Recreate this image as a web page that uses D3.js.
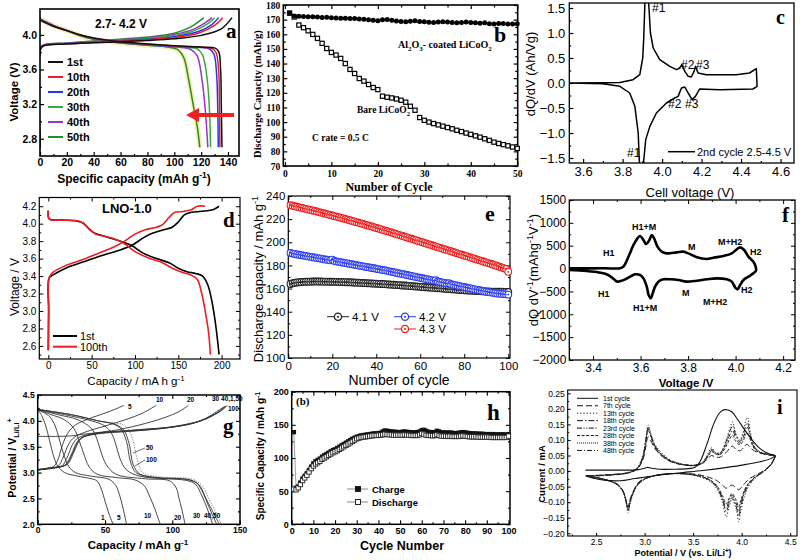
<!DOCTYPE html>
<html><head><meta charset="utf-8">
<script src="https://cdn.jsdelivr.net/npm/d3@7"></script>
<style>body{margin:0;background:#fff}svg{display:block}</style>
</head><body><svg id="c" width="800" height="560"></svg>
<script>
// ================= DATA =================
// --- panel a : voltage profiles (capacity mAh/g, V)
const aLegend = ["1st","10th","20th","30th","40th","50th"];
const aChg1st = [[0,2.7],[0.6,3.84],[3,3.875],[20,3.895],[50,3.915],[80,3.935],[100,3.955],[120,3.995],[135,4.07],[143,4.2]];
const aChg10th = [[0,2.7],[0.6,3.85],[3,3.878],[20,3.898],[50,3.92],[80,3.945],[100,3.97],[118,4.02],[130,4.11],[136,4.2]];
const aChg20th = [[0,2.7],[0.6,3.85],[3,3.88],[20,3.9],[50,3.925],[80,3.95],[100,3.98],[118,4.04],[128,4.12],[133,4.2]];
const aChg30th = [[0,2.7],[0.6,3.86],[3,3.882],[20,3.902],[50,3.93],[80,3.96],[100,3.995],[115,4.05],[125,4.13],[130,4.2]];
const aChg40th = [[0,2.7],[0.6,3.86],[3,3.885],[20,3.905],[50,3.935],[80,3.965],[100,4.005],[115,4.07],[124,4.15],[128,4.2]];
const aChg50th = [[0,2.7],[0.6,3.86],[3,3.888],[20,3.908],[50,3.94],[80,3.975],[100,4.02],[112,4.09],[122,4.2]];
const aDis1st = [[0,4.17],[10,4.1],[20,4.05],[30,4.0],[40,3.965],[50,3.94],[60,3.92],[80,3.895],[100,3.875],[120,3.86],[130,3.85],[133,3.81],[134.5,3.6],[135,3.2],[135.5,2.7]];
const aDis10th = [[0,4.175],[10,4.1],[20,4.05],[30,4.0],[40,3.962],[50,3.938],[60,3.918],[80,3.893],[100,3.873],[120,3.858],[128,3.845],[131,3.8],[133,3.6],[133.6,3.2],[134,2.7]];
const aDis20th = [[0,4.18],[10,4.105],[20,4.052],[30,4.0],[40,3.96],[50,3.936],[60,3.916],[80,3.89],[100,3.87],[120,3.855],[126,3.84],[129.5,3.78],[131.5,3.55],[132.3,3.2],[132.8,2.7]];
const aDis30th = [[0,4.18],[10,4.105],[20,4.05],[30,3.995],[40,3.955],[50,3.932],[60,3.912],[80,3.886],[100,3.866],[110,3.855],[117,3.84],[121,3.77],[124,3.55],[126,3.2],[127,2.7]];
const aDis40th = [[0,4.185],[10,4.11],[20,4.05],[30,3.995],[40,3.953],[50,3.93],[60,3.91],[80,3.884],[95,3.866],[105,3.855],[112,3.835],[117,3.76],[120.5,3.5],[123,3.15],[125,2.7]];
const aDis50th = [[0,4.185],[10,4.11],[20,4.05],[30,3.99],[40,3.95],[50,3.927],[60,3.906],[80,3.88],[95,3.86],[102,3.835],[107,3.74],[110.5,3.5],[114,3.2],[117,2.95],[119,2.7]];

// --- panel b : discharge capacity vs cycle
const bCycles = d3.range(1, 51);
const bCoated = [174.3,172.5,172.3,172.2,172.0,172.0,171.8,171.5,171.6,171.3,171.2,171.0,171.0,170.8,170.7,170.4,170.3,170.0,169.6,169.3,170.0,170.1,169.5,169.0,168.8,168.6,168.9,169.2,168.7,168.5,168.2,168.0,168.4,168.6,168.3,168.0,167.8,168.1,168.3,168.0,167.8,167.5,167.8,167.2,167.0,167.3,167.4,167.1,167.0,167.2];
const bBare = [174.5,171.8,166.3,164.5,162.4,159.9,157.2,153.8,150.3,147.6,145.8,143.5,140.0,136.0,133.2,129.8,128.0,125.7,123.6,122.2,117.7,117.0,116.5,115.8,114.9,113.6,110.8,108.1,103.1,101.2,100.0,99.0,98.1,97.2,96.3,95.4,94.4,93.5,92.5,91.6,90.6,89.7,88.6,87.5,86.3,85.4,84.6,83.8,83.0,82.0];

// --- panel c : dQ/dV (V, Ah/Vg)
const cCurve = [[3.53,0],[3.70,0.003],[3.786,0.01],[3.853,0.067],[3.887,0.167],[3.902,0.5],[3.907,0.9],[3.912,1.5],[3.915,2.0],[3.925,2.2],[3.932,1.6],[3.941,1.0],[3.955,0.7],[3.988,0.467],[4.039,0.333],[4.073,0.267],[4.089,0.3],[4.1,0.367],[4.115,0.233],[4.132,0.133],[4.148,0.12],[4.162,0.233],[4.169,0.333],[4.182,0.2],[4.224,0.167],[4.376,0.167],[4.443,0.2],[4.477,0.287],[4.48,0.05],[4.481,-0.067],[4.46,-0.12],[4.292,-0.133],[4.19,-0.12],[4.169,-0.267],[4.152,-0.333],[4.132,-0.2],[4.115,-0.08],[4.098,-0.1],[4.081,-0.267],[4.064,-0.3],[4.022,-0.4],[3.971,-0.6],[3.938,-0.867],[3.917,-1.133],[3.907,-1.55],[3.9,-2.1],[3.89,-2.0],[3.884,-1.5],[3.879,-1.0],[3.862,-0.467],[3.836,-0.2],[3.786,-0.067],[3.70,-0.013],[3.53,0]];

// --- panel d : voltage profiles LNO-1.0
const dChg1st = [[0,2.55],[0.4,3.0],[1,3.38],[5,3.41],[20,3.49],[40,3.56],[60,3.63],[80,3.69],[96,3.75],[110,3.84],[120,3.89],[133,3.93],[143,3.96],[150,4.02],[157,4.1],[165,4.13],[180,4.145],[190,4.16],[197,4.2]];
const dChg100th = [[0,2.55],[0.4,3.0],[1,3.38],[5,3.44],[20,3.52],[40,3.59],[60,3.67],[75,3.73],[88,3.8],[100,3.88],[112,3.93],[125,3.96],[132,3.99],[140,4.08],[146,4.13],[155,4.14],[165,4.16],[172,4.2],[181,4.2]];
const dDis1st = [[0,4.15],[0.5,4.06],[3,4.045],[20,4.04],[33,4.03],[40,4.01],[45,3.96],[52,3.9],[60,3.87],[70,3.84],[80,3.81],[96,3.75],[110,3.66],[125,3.6],[140,3.55],[150,3.49],[160,3.45],[170,3.43],[178,3.4],[184,3.3],[189,3.1],[193,2.85],[196,2.6],[197,2.5]];
const dDis100th = [[0,4.15],[0.5,4.06],[3,4.045],[20,4.04],[35,4.03],[42,3.99],[48,3.93],[55,3.88],[65,3.855],[75,3.83],[88,3.77],[100,3.68],[115,3.61],[130,3.56],[145,3.48],[155,3.44],[165,3.41],[172,3.36],[177,3.2],[181,3.0],[185,2.75],[187,2.5]];

// --- panel e : discharge capacity vs cycle at three cut-off voltages
const eCycles = d3.range(1, 101);
const e41 = [164.0,164.6,165.0,165.3,165.5,165.7,165.8,165.9,166.0,166.0,166.1,166.1,166.1,166.1,166.1,166.0,166.0,166.0,165.9,165.9,165.8,165.8,165.7,165.7,165.6,165.5,165.5,165.4,165.3,165.2,165.1,165.0,164.9,164.8,164.7,164.6,164.5,164.4,164.3,164.2,164.1,164.0,163.9,163.8,163.6,163.5,163.4,163.3,163.1,163.0,162.9,162.7,162.6,162.4,162.3,162.1,162.0,161.8,161.7,161.5,161.4,161.2,161.1,160.9,160.8,160.6,160.5,160.3,160.2,160.0,159.9,159.7,159.6,159.4,159.3,159.1,159.0,158.8,158.7,158.5,158.4,158.3,158.2,158.1,158.0,157.9,157.8,157.7,157.6,157.5,157.5,157.4,157.4,157.3,157.3,157.2,157.2,157.1,157.1,157.0];
const e42 = [190.8,190.2,189.9,189.5,189.2,188.8,188.5,188.1,187.8,187.4,187.1,186.8,186.4,186.1,185.8,185.4,185.1,184.8,184.4,185.0,183.8,183.4,183.1,182.7,182.4,182.0,181.7,181.3,181.0,180.6,180.3,179.9,179.6,179.2,178.9,178.5,178.2,177.8,177.5,177.1,176.8,176.4,176.0,175.8,175.3,174.9,174.5,174.1,173.7,173.3,172.9,172.5,172.1,171.7,171.3,170.9,170.5,170.1,169.7,169.3,168.9,168.5,168.1,167.7,167.3,166.9,167.2,166.1,165.7,165.3,164.9,164.5,164.6,163.7,163.3,162.9,162.5,162.1,161.7,161.3,160.9,160.5,160.1,159.7,159.3,158.9,158.5,158.1,157.7,157.3,157.0,156.7,156.4,156.1,155.8,155.6,155.4,155.2,155.0,154.8];
const e43 = [232.0,231.6,231.1,230.7,230.2,229.8,229.3,228.9,228.4,228.0,227.5,227.0,226.6,226.1,225.6,225.1,224.6,224.1,223.6,223.1,222.6,222.1,221.6,221.1,220.6,220.1,219.5,219.0,218.5,218.0,217.4,216.9,216.3,215.8,215.2,214.7,214.1,213.6,213.0,212.4,211.9,211.3,210.7,210.1,209.5,209.0,208.4,207.8,207.2,206.6,206.0,205.4,204.8,204.2,203.6,203.0,202.4,201.8,201.2,200.6,200.0,199.4,198.8,198.2,197.6,197.0,196.4,195.8,195.2,194.6,194.0,193.4,192.8,192.2,191.6,191.0,190.4,189.8,189.2,188.6,188.0,187.4,186.8,186.2,185.6,185.0,184.4,183.8,183.2,182.6,182.0,181.4,180.8,180.2,179.5,178.9,178.2,177.6,176.9,174.5];
const eLegend = ["4.1 V","4.2 V","4.3 V"];

// --- panel f : dQ/dV (V, mAh g-1 V-1)
const fCurve = [[3.30,5],[3.45,6],[3.514,8],[3.528,42],[3.549,260],[3.57,515],[3.587,661],[3.598,712],[3.612,625],[3.623,537],[3.637,625],[3.647,734],[3.657,661],[3.671,479],[3.689,370],[3.71,333],[3.752,355],[3.78,370],[3.801,333],[3.837,246],[3.879,209],[3.907,238],[3.949,275],[3.984,333],[4.005,421],[4.019,464],[4.036,406],[4.054,260],[4.068,187],[4.079,114],[4.085,27],[4.086,-46],[4.075,-104],[4.054,-177],[4.033,-250],[4.019,-359],[4.008,-454],[3.998,-410],[3.984,-286],[3.963,-235],[3.921,-214],[3.879,-235],[3.837,-265],[3.794,-286],[3.759,-250],[3.724,-235],[3.696,-235],[3.675,-286],[3.661,-396],[3.651,-542],[3.643,-651],[3.634,-578],[3.626,-396],[3.612,-214],[3.598,-140],[3.577,-126],[3.556,-177],[3.535,-235],[3.516,-272],[3.502,-286],[3.488,-235],[3.464,-140],[3.43,-90],[3.373,-53],[3.30,-31]];

// --- panel g : voltage profiles for several cycles (capacity, V)
const gDis1 = [[0,4.22],[3,4.1],[6,3.9],[9,3.6],[12,3.3],[15,3.12],[20,3.0],[30,2.93],[40,2.88],[44,2.84],[47,2.7],[50,2.45],[53,2.2],[56,2.0]];
const gDis5 = [[0,4.22],[5,4.15],[9,4.08],[13,3.9],[16,3.65],[19,3.38],[23,3.12],[28,3.0],[40,2.93],[53,2.87],[58,2.75],[61,2.55],[63.5,2.3],[66,2.0]];
const gDis10 = [[0,4.22],[10,4.12],[20,4.02],[27,3.85],[31,3.6],[34,3.38],[38,3.12],[44,2.97],[60,2.9],[72,2.86],[79,2.75],[83,2.55],[87,2.3],[91,2.0]];
const gDis20 = [[0,4.22],[15,4.12],[30,4.02],[40,3.85],[44,3.65],[47,3.4],[51,3.15],[58,2.97],[80,2.88],[98,2.84],[103,2.7],[105,2.5],[107,2.3],[109.5,2.0]];
const gDis30 = [[0,4.22],[20,4.12],[40,4.0],[50,3.9],[55,3.75],[58,3.55],[61,3.28],[66,3.05],[76,2.93],[96,2.88],[110,2.85],[117,2.78],[122,2.55],[126,2.3],[130,2.0]];
const gDis40 = [[0,4.22],[25,4.12],[45,4.0],[56,3.94],[62,3.84],[66,3.6],[69,3.2],[73,3.0],[85,2.91],[110,2.87],[118,2.8],[123,2.6],[127,2.35],[133,2.0]];
const gDis50 = [[0,4.22],[25,4.12],[45,4.0],[58,3.93],[64,3.82],[68,3.55],[71,3.15],[76,2.97],[90,2.9],[113,2.86],[120,2.76],[125,2.5],[129,2.3],[135,2.0]];
const gDis100 = [[55,3.97],[63,3.93],[67,3.85],[71,3.6],[74,3.25],[78,3.0],[90,2.92],[115,2.87],[122,2.75],[127,2.5],[131,2.3],[136.5,2.0]];
const gChg1 = [[0,3.7],[15,3.7],[25,3.71],[33,3.74],[45,3.77],[60,3.8],[80,3.84],[100,3.88],[115,3.95],[125,4.05],[133,4.18],[139,4.28]];
const gChg5 = [[0,3.05],[6,3.08],[12,3.12],[15,3.25],[18,3.5],[22,3.75],[28,3.92],[38,4.04],[50,4.15],[58,4.23],[64,4.3]];
const gChg10 = [[0,3.05],[8,3.08],[15,3.12],[19,3.3],[23,3.55],[27,3.68],[35,3.78],[50,3.9],[65,4.02],[78,4.15],[88,4.3]];
const gChg20 = [[0,3.05],[10,3.08],[18,3.13],[22,3.3],[26,3.55],[30,3.67],[40,3.75],[60,3.83],[80,3.95],[95,4.07],[105,4.18],[112,4.3]];
const gChg30 = [[0,3.05],[12,3.09],[20,3.14],[25,3.35],[29,3.58],[33,3.68],[45,3.75],[70,3.8],[95,3.86],[115,3.95],[127,4.06],[134,4.17],[139,4.28]];
const gChg40 = [[0,3.06],[12,3.1],[21,3.15],[26,3.38],[30,3.6],[34,3.69],[46,3.76],[72,3.81],[97,3.87],[117,3.97],[128,4.08],[135,4.18],[140,4.29]];
const gChg50 = [[0,3.06],[13,3.1],[22,3.16],[27,3.4],[31,3.62],[35,3.7],[47,3.77],[73,3.82],[98,3.88],[118,3.98],[129,4.09],[136,4.19],[141,4.3]];

// --- panel h : specific capacity vs cycle number
const hCycles = d3.range(1, 101);
const hCharge = [139,55,57,63,69,73,77,82,87,92,95,97,99,102,104,106,108,110,112,113,115,117,119,121,123,125,127,129,130.5,132,133,134,134.5,135,135.5,136,136.5,137,137,137.5,138,140,141.5,141,140.5,140,139.5,139.5,139,139,139.5,140,139.5,139,139,138.5,138.5,139,140,142,142.5,141,139.5,139,138.5,139,141,140,138.5,138.5,138.5,138,138.5,138,137.5,137.5,138,138.5,139,138.5,138,137.5,137,137,137,136.5,136.5,136.5,136,136,136,136,136,135.5,135.5,135.5,135.5,135.5,135,136];
const hDischarge = [53,52,55,60,66,70,74,79,84,88,91,93,95,98,100,102,104,106,108,109.5,111,113,115,117,119,121,123,125,127,129,130,131,131.5,132,132.5,133,133.5,134,134,134.5,134.5,135,136,135.5,135,135,134.5,134.5,134.5,134.5,134.5,135,134.5,134.5,134,134,134,134,135,137,136,134.5,134,134,133.5,134,135,134,133,133,133,132.5,133,132.5,132.5,132.5,132.5,133,133.5,133,132.5,132,132,132,132,131.5,131.5,131.5,131.5,131.5,131.5,131,131,131,131,131,131,131,131,133];

// --- panel i : cyclic voltammograms (V, mA)
const iLegend = ["1st cycle","7th cycle","13th cycle","18th cycle","23rd cycle","28th cycle","38th cycle","48th cycle"];
const i1V = [2.39,2.6,2.8,2.92,3.0,3.03,3.07,3.15,3.3,3.45,3.52,3.57,3.64,3.71,3.76,3.80,3.85,3.90,3.96,4.03,4.10,4.19,4.28,4.345,4.30,4.19,4.02,3.85,3.6,3.35,3.1,2.9,2.75,2.6,2.47,2.39];
const i1I = [0.003,0.003,0.003,0.004,0.009,0.012,0.009,0.006,0.006,0.008,0.012,0.03,0.085,0.15,0.182,0.195,0.197,0.19,0.165,0.133,0.103,0.072,0.056,0.05,0.04,0.03,0.02,0.012,0.002,-0.006,-0.015,-0.024,-0.031,-0.03,-0.023,-0.015];
const iVa = [2.40,2.55,2.70,2.82,2.92,2.98,3.01,3.036,3.06,3.10,3.17,3.27,3.40,3.52,3.60,3.65,3.69,3.73,3.78,3.84,3.88,3.907,3.94,3.98,4.02,4.045,4.06,4.09,4.13,4.19,4.27,4.35];
const iVc = [4.345,4.30,4.22,4.15,4.08,4.03,3.99,3.97,3.945,3.90,3.87,3.84,3.80,3.74,3.66,3.56,3.45,3.30,3.15,3.03,2.94,2.89,2.85,2.83,2.81,2.78,2.72,2.62,2.52,2.40];
const i7a = [-0.015,-0.013,-0.01,-0.006,0.006,0.035,0.075,0.11,0.1,0.075,0.05,0.03,0.02,0.018,0.025,0.04,0.05,0.045,0.045,0.06,0.075,0.08,0.07,0.065,0.075,0.085,0.085,0.075,0.065,0.058,0.052,0.047];
const i7c = [0.045,0.02,0.0,-0.012,-0.025,-0.04,-0.055,-0.06,-0.055,-0.045,-0.05,-0.055,-0.045,-0.03,-0.02,-0.012,-0.008,-0.008,-0.012,-0.02,-0.035,-0.06,-0.09,-0.115,-0.095,-0.065,-0.042,-0.03,-0.022,-0.016];
const i13a = [-0.015,-0.013,-0.01,-0.005,0.01,0.05,0.1,0.148,0.125,0.09,0.06,0.035,0.022,0.02,0.03,0.055,0.075,0.06,0.06,0.1,0.14,0.158,0.12,0.1,0.13,0.165,0.172,0.125,0.08,0.062,0.055,0.048];
const i13c = [0.046,0.02,-0.003,-0.02,-0.045,-0.08,-0.13,-0.163,-0.125,-0.09,-0.115,-0.147,-0.1,-0.055,-0.03,-0.018,-0.01,-0.008,-0.012,-0.022,-0.04,-0.065,-0.105,-0.135,-0.105,-0.07,-0.045,-0.03,-0.022,-0.015];
const i18a = [-0.016,-0.014,-0.011,-0.006,0.008,0.045,0.095,0.14,0.12,0.085,0.055,0.033,0.021,0.019,0.028,0.05,0.07,0.058,0.058,0.095,0.13,0.145,0.115,0.095,0.12,0.15,0.155,0.115,0.078,0.06,0.054,0.048];
const i18c = [0.046,0.02,-0.003,-0.018,-0.04,-0.07,-0.115,-0.145,-0.115,-0.085,-0.105,-0.13,-0.09,-0.05,-0.028,-0.016,-0.01,-0.008,-0.012,-0.022,-0.04,-0.065,-0.1,-0.125,-0.1,-0.068,-0.044,-0.03,-0.022,-0.015];
const i28a = [-0.016,-0.014,-0.011,-0.007,0.006,0.04,0.085,0.13,0.115,0.08,0.052,0.031,0.02,0.018,0.026,0.045,0.062,0.055,0.053,0.08,0.105,0.115,0.095,0.085,0.1,0.12,0.122,0.1,0.072,0.058,0.053,0.047];
const i28c = [0.045,0.02,-0.002,-0.016,-0.035,-0.06,-0.095,-0.115,-0.095,-0.072,-0.088,-0.105,-0.078,-0.045,-0.026,-0.015,-0.01,-0.008,-0.012,-0.021,-0.038,-0.062,-0.095,-0.12,-0.097,-0.066,-0.043,-0.03,-0.022,-0.015];
const i48a = [-0.017,-0.015,-0.012,-0.007,0.007,0.042,0.09,0.135,0.118,0.083,0.054,0.032,0.02,0.018,0.027,0.048,0.066,0.056,0.055,0.088,0.118,0.13,0.105,0.09,0.11,0.135,0.14,0.108,0.075,0.06,0.054,0.048];
const i48c = [0.046,0.02,-0.002,-0.017,-0.038,-0.065,-0.105,-0.13,-0.105,-0.078,-0.095,-0.118,-0.085,-0.048,-0.027,-0.016,-0.01,-0.008,-0.012,-0.021,-0.039,-0.063,-0.098,-0.125,-0.1,-0.067,-0.044,-0.03,-0.022,-0.015];

// ================= DRAWING =================
const svg = d3.select("#c");
svg.append("rect").attr("width", 800).attr("height", 560).attr("fill", "#fff");
const SANS = "'Liberation Sans', Arial, Helvetica, sans-serif";
const SERIF = "'Liberation Serif', 'Times New Roman', serif";
let clipN = 0;

function panel(o) {
  const x = d3.scaleLinear().domain(o.xd).range([o.x0, o.x1]);
  const y = d3.scaleLinear().domain(o.yd).range([o.y1, o.y0]);
  const g = svg.append("g");
  const tl = o.tl ?? 4, ml = o.ml ?? 2;
  const none = () => "";
  const add = (axis, tr, vals, fmt, len, pad) => g.append("g").attr("transform", tr)
    .call(axis.tickValues(vals).tickFormat(fmt || none).tickSizeInner(len).tickSizeOuter(0).tickPadding(pad ?? 3));
  add(d3.axisBottom(x), `translate(0,${o.y1})`, o.xt, o.xf, -tl, o.xpad);
  add(d3.axisLeft(y), `translate(${o.x0},0)`, o.yt, o.yf, -tl, o.ypad);
  if (o.xm) add(d3.axisBottom(x), `translate(0,${o.y1})`, o.xm, null, -ml);
  if (o.ym) add(d3.axisLeft(y), `translate(${o.x0},0)`, o.ym, null, -ml);
  if (o.mirror) {
    add(d3.axisTop(x), `translate(0,${o.y0})`, o.xt, null, -tl);
    add(d3.axisRight(y), `translate(${o.x1},0)`, o.yt, null, -tl);
    if (o.xm) add(d3.axisTop(x), `translate(0,${o.y0})`, o.xm, null, -ml);
    if (o.ym) add(d3.axisRight(y), `translate(${o.x1},0)`, o.ym, null, -ml);
  }
  g.selectAll(".domain").remove();
  g.selectAll(".tick text").attr("font-family", o.font || SANS).attr("font-size", o.fs || 10)
    .attr("font-weight", o.fw || "normal").attr("fill", "#000");
  g.selectAll(".tick line").attr("stroke", "#000").attr("stroke-width", o.tw || 1);
  const id = "clp" + (clipN++);
  svg.append("clipPath").attr("id", id).append("rect")
    .attr("x", o.x0).attr("y", o.y0).attr("width", o.x1 - o.x0).attr("height", o.y1 - o.y0);
  const plot = svg.append("g").attr("clip-path", `url(#${id})`);
  svg.append("rect").attr("x", o.x0).attr("y", o.y0).attr("width", o.x1 - o.x0).attr("height", o.y1 - o.y0)
    .attr("fill", "none").attr("stroke", "#000").attr("stroke-width", o.fwid || 1.2);
  const free = svg.append("g");
  return { x, y, plot, free };
}

function label(x, y, parts, o = {}) {
  const fs = o.fs || 10;
  const t = svg.append("text").attr("x", x).attr("y", y)
    .attr("font-family", o.font || SANS).attr("font-size", fs).attr("font-weight", o.fw || "normal")
    .attr("text-anchor", o.anchor || "start").attr("fill", o.fill || "#000");
  if (o.rotate) t.attr("transform", `rotate(-90,${x},${y})`);
  let cur = 0;
  (Array.isArray(parts) ? parts : [parts]).forEach(p => {
    let txt, tgt, small = false;
    if (typeof p === "string") { txt = p; tgt = 0; }
    else { txt = p[0]; tgt = p[1] === "sup" ? -0.38 * fs : 0.3 * fs; small = true; }
    const s = t.append("tspan").text(txt);
    if (tgt - cur !== 0) s.attr("dy", tgt - cur);
    if (small) s.attr("font-size", fs * 0.7);
    cur = tgt;
  });
  return t;
}

function curve(P, pts, o = {}) {
  return (o.free ? P.free : P.plot).append("path").datum(pts)
    .attr("d", d3.line().x(d => P.x(d[0])).y(d => P.y(d[1])).curve(o.curve || d3.curveCatmullRom.alpha(0.5)))
    .attr("fill", "none").attr("stroke", o.stroke || "#000").attr("stroke-width", o.w || 1.2)
    .attr("stroke-dasharray", o.dash || null).attr("stroke-linejoin", "round")
    .attr("stroke-linecap", o.cap || "butt");
}
const pairs = (xs, ys) => xs.map((v, k) => [v, ys[k]]);

// ---------- Panel a ----------
{
  const P = panel({ x0: 40, x1: 239, y0: 9, y1: 156, xd: [0, 148.2], yd: [2.6, 4.3],
    xt: [0,20,40,60,80,100,120,140], xm: [10,30,50,70,90,110,130], yt: [2.8,3.2,3.6,4.0], ym: [3.0,3.4,3.8,4.2],
    xf: d3.format("d"), yf: d3.format(".1f"), fs: 10.5, fw: "bold", tw: 1.2, fwid: 1.6 });
  const cols = ["#111111", "#e8202a", "#2437f0", "#3aa83a", "#9b35c8", "#2a8a2a"];
  const chg = [aChg1st, aChg10th, aChg20th, aChg30th, aChg40th, aChg50th];
  const dis = [aDis1st, aDis10th, aDis20th, aDis30th, aDis40th, aDis50th];
  curve(P, aDis50th, { stroke: "#f4f0b4", w: 5 });
  for (let k = 5; k >= 0; k--) {
    curve(P, dis[k], { stroke: cols[k], w: 1.5 });
    curve(P, chg[k], { stroke: cols[k], w: 1.5 });
  }
  aLegend.forEach((s, k) => {
    const yy = 62 + k * 15;
    svg.append("line").attr("x1", 48).attr("x2", 63).attr("y1", yy).attr("y2", yy).attr("stroke", cols[k]).attr("stroke-width", 2);
    label(67, yy + 4, s, { fs: 11, fw: "bold" });
  });
  label(95, 28, "2.7- 4.2 V", { fs: 12, fw: "bold" });
  label(226, 38, "a", { fs: 21, fw: "bold", font: SERIF });
  svg.append("line").attr("x1", 234).attr("x2", 196).attr("y1", 115).attr("y2", 115).attr("stroke", "#ee2222").attr("stroke-width", 4);
  svg.append("path").attr("d", "M186,115 L199,108 L199,122 Z").attr("fill", "#ee2222");
  label(134, 183, ["Specific capacity (mAh g", ["-1", "sup"], ")"], { fs: 12, fw: "bold", anchor: "middle" });
  label(18, 92, "Voltage (V)", { fs: 11.5, fw: "bold", anchor: "middle", rotate: true });
}

// ---------- Panel b ----------
{
  const P = panel({ x0: 283.3, x1: 517.7, y0: 5, y1: 166, xd: [-0.35, 50.1], yd: [70, 180],
    xt: [0,10,20,30,40,50], xm: [5,15,25,35,45], yt: d3.range(70, 181, 10), ym: d3.range(75, 180, 10),
    xf: d3.format("d"), yf: d3.format("d"), font: SERIF, fs: 9.5, fw: "bold", mirror: true, ml: 2.5, tw: 1.2, fwid: 1.6, xpad: 4 });
  const ptsC = pairs(bCycles, bCoated), ptsB = pairs(bCycles, bBare);
  P.free.selectAll("rect.b").data(ptsB).join("rect")
    .attr("x", d => P.x(d[0]) - 2.1).attr("y", d => P.y(d[1]) - 2.1).attr("width", 4.2).attr("height", 4.2)
    .attr("fill", "#fff").attr("stroke", "#000").attr("stroke-width", 1.2);
  curve(P, ptsC, { w: 1, curve: d3.curveLinear, free: true });
  P.free.selectAll("circle.c").data(ptsC).join("circle")
    .attr("cx", d => P.x(d[0])).attr("cy", d => P.y(d[1])).attr("r", 2.5).attr("fill", "#000");
  label(398, 48, ["Al", ["2", "sub"], "O", ["3", "sub"], "- coated LiCoO", ["2", "sub"]], { fs: 10, fw: "bold", font: SERIF });
  label(357, 113, ["Bare LiCoO", ["2", "sub"]], { fs: 9.5, fw: "bold", font: SERIF });
  label(312, 141, "C rate = 0.5 C", { fs: 9.5, fw: "bold", font: SERIF });
  label(494, 42, "b", { fs: 22, fw: "bold", font: SERIF });
  label(389, 191, "Number of Cycle", { fs: 12, fw: "bold", font: SERIF, anchor: "middle" });
  label(261, 94, "Discharge Capacity (mAh/g)", { fs: 10.5, fw: "bold", font: SERIF, anchor: "middle", rotate: true });
}

// ---------- Panel c ----------
{
  const P = panel({ x0: 569.3, x1: 794, y0: 3, y1: 163, xd: [3.53, 4.668], yd: [-1.6, 1.6],
    xt: [3.6,3.8,4.0,4.2,4.4,4.6], xm: [3.7,3.9,4.1,4.3,4.5], yt: [-1.5,-1,-0.5,0,0.5,1,1.5], ym: [-1.25,-0.75,-0.25,0.25,0.75,1.25],
    xf: d3.format(".1f"), yf: d3.format(".1f"), fs: 13, tw: 1.2, fwid: 1.3, xpad: 4, ypad: 4 });
  curve(P, cCurve, { w: 1.5, curve: d3.curveLinear });
  svg.append("line").attr("x1", 668).attr("x2", 695).attr("y1", 151.7).attr("y2", 151.7).attr("stroke", "#000").attr("stroke-width", 1.5);
  label(697, 156, "2nd cycle 2.5-4.5 V", { fs: 11 });
  label(652, 12, "#1", { fs: 12 });
  label(681, 69, "#2", { fs: 12 });
  label(696, 69, "#3", { fs: 12 });
  label(668, 108, "#2", { fs: 12 });
  label(685, 108, "#3", { fs: 12 });
  label(627, 157, "#1", { fs: 12 });
  label(776, 24, "c", { fs: 20, fw: "bold", font: SERIF });
  label(690, 197, "Cell voltage (V)", { fs: 13, anchor: "middle" });
  label(535, 74, "dQ/dV (Ah/Vg)", { fs: 13, anchor: "middle", rotate: true });
}

// ---------- Panel d ----------
{
  const P = panel({ x0: 39.3, x1: 240, y0: 197.5, y1: 359, xd: [-10.4, 221.2], yd: [2.45, 4.3],
    xt: [0,50,100,150,200], xm: [25,75,125,175], yt: [2.6,2.8,3.0,3.2,3.4,3.6,3.8,4.0,4.2], ym: [2.5,2.7,2.9,3.1,3.3,3.5,3.7,3.9,4.1],
    xf: d3.format("d"), yf: d3.format(".1f"), fs: 10, mirror: true, tw: 1, fwid: 1.2, xpad: 3 });
  curve(P, dChg1st, { w: 1.6, stroke: "#000" });
  curve(P, dDis1st, { w: 1.6, stroke: "#000" });
  curve(P, dChg100th, { w: 1.6, stroke: "#ee1c24" });
  curve(P, dDis100th, { w: 1.6, stroke: "#ee1c24" });
  svg.append("line").attr("x1", 53).attr("x2", 77).attr("y1", 336).attr("y2", 336).attr("stroke", "#000").attr("stroke-width", 2);
  svg.append("line").attr("x1", 53).attr("x2", 77).attr("y1", 346.7).attr("y2", 346.7).attr("stroke", "#ee1c24").attr("stroke-width", 2);
  label(80, 340, "1st", { fs: 11 });
  label(80, 350.5, "100th", { fs: 11 });
  label(102, 213, "LNO-1.0", { fs: 13, fw: "bold" });
  label(223, 227, "d", { fs: 21, fw: "bold", font: SERIF });
  label(136, 385, ["Capacity / mA h g", ["-1", "sup"]], { fs: 11.5, anchor: "middle" });
  label(19, 287, "Voltage / V", { fs: 12, anchor: "middle", rotate: true });
}

// ---------- Panel e ----------
{
  const P = panel({ x0: 288.3, x1: 510, y0: 196, y1: 358, xd: [0, 100.8], yd: [100, 240],
    xt: [0,20,40,60,80,100], xm: [10,30,50,70,90], yt: [100,120,140,160,180,200,220,240], ym: [110,130,150,170,190,210,230],
    xf: d3.format("d"), yf: d3.format("d"), fs: 11.5, mirror: true, tw: 1, fwid: 1.2, xpad: 4 });
  const series = [[e41, "#222222"], [e42, "#2d3df0"], [e43, "#ee1c1c"]];
  series.forEach(([vals, col]) => {
    const pts = pairs(eCycles, vals);
    curve(P, pts, { stroke: col, w: 1, curve: d3.curveLinear, free: true });
    const gg = P.free.append("g");
    gg.selectAll("circle.o").data(pts).join("circle").attr("cx", d => P.x(d[0])).attr("cy", d => P.y(d[1]))
      .attr("r", 3.4).attr("fill", "#fff").attr("stroke", col).attr("stroke-width", 1.1);
    gg.selectAll("circle.i").data(pts).join("circle").attr("cx", d => P.x(d[0])).attr("cy", d => P.y(d[1]))
      .attr("r", 0.9).attr("fill", col);
  });
  const leg = [[338, 316.7, 0], [405, 316.7, 1], [405, 329, 2]];
  leg.forEach(([cx, cy, k]) => {
    const col = series[k][1];
    svg.append("line").attr("x1", cx - 11).attr("x2", cx + 11).attr("y1", cy).attr("y2", cy).attr("stroke", col).attr("stroke-width", 1);
    svg.append("circle").attr("cx", cx).attr("cy", cy).attr("r", 3.6).attr("fill", "#fff").attr("stroke", col).attr("stroke-width", 1.3);
    svg.append("circle").attr("cx", cx).attr("cy", cy).attr("r", 1).attr("fill", col);
    label(cx + 14, cy + 4, eLegend[k], { fs: 11.5 });
  });
  label(485, 221, "e", { fs: 22, fw: "bold", font: SERIF });
  label(399, 385, "Number of cycle", { fs: 14, anchor: "middle" });
  label(263, 279, ["Discharge capacity / mAh g", ["-1", "sup"]], { fs: 13, anchor: "middle", rotate: true });
}

// ---------- Panel f ----------
{
  const P = panel({ x0: 569.3, x1: 795, y0: 200, y1: 360, xd: [3.3, 4.25], yd: [-2000, 1500],
    xt: [3.4,3.6,3.8,4.0,4.2], xm: [3.3,3.5,3.7,3.9,4.1], yt: [-2000,-1500,-1000,-500,0,500,1000,1500], ym: [-1750,-1250,-750,-250,250,750,1250],
    xf: d3.format(".1f"), yf: d3.format("d"), fs: 12, mirror: true, tw: 1, fwid: 1.3, xpad: 3 });
  curve(P, fCurve, { w: 2.6 });
  const lb = [["H1",603,256],["H1+M",632,230],["M",688,250],["M+H2",718,245],["H2",750,255],
              ["H1",598,297],["H1+M",633,311],["M",682,296],["M+H2",703,305],["H2",741,293]];
  lb.forEach(([s, x, y]) => label(x, y, s, { fs: 9, fw: "bold" }));
  label(782, 222, "f", { fs: 21, fw: "bold", font: SERIF });
  label(686, 387, "Voltage /V", { fs: 11.5, fw: "bold", anchor: "middle" });
  label(538, 270, ["dQ dV", ["-1", "sup"], "(mAhg", ["-1", "sup"], "V", ["-1", "sup"], ")"], { fs: 13, anchor: "middle", rotate: true });
}

// ---------- Panel g ----------
{
  const P = panel({ x0: 37.7, x1: 240, y0: 395, y1: 524.3, xd: [0, 150.3], yd: [2.0, 4.5],
    xt: [0,50,100,150], xm: [25,75,125], yt: [2.0,2.5,3.0,3.5,4.0,4.5], ym: [2.25,2.75,3.25,3.75,4.25],
    xf: d3.format("d"), yf: d3.format(".1f"), fs: 8.5, fw: "bold", mirror: true, tw: 1.1, fwid: 1.5, xpad: 3 });
  [gDis1, gDis5, gDis10, gDis20, gDis30, gDis40, gDis50, gChg1, gChg5, gChg10, gChg20, gChg30, gChg40, gChg50]
    .forEach(c => curve(P, c, { w: 0.9, stroke: "#333" }));
  curve(P, gDis100, { w: 1, stroke: "#777", dash: "1.2,1.5" });
  const gl = [["5",128,409],["10",156,402],["20",187,402],["30 40,1,50",212,401],["100",228,411],
              ["50",146,450],["100",146,462],
              ["1",101,520],["5",117,520],["10",144,518],["20",174,520],["30",193,518],["40,50",204,518]];
  gl.forEach(([s, x, y]) => label(x, y, s, { fs: 6.5, fw: "bold" }));
  svg.append("line").attr("x1", 133).attr("x2", 145).attr("y1", 453).attr("y2", 448).attr("stroke", "#333").attr("stroke-width", 0.7);
  svg.append("line").attr("x1", 135).attr("x2", 145).attr("y1", 466).attr("y2", 460).attr("stroke", "#333").attr("stroke-width", 0.7);
  label(223, 433, "g", { fs: 21, fw: "bold", font: SERIF });
  label(138, 549, ["Capacity  /  mAh g", ["-1", "sup"]], { fs: 11.5, fw: "bold", anchor: "middle" });
  label(16, 458, ["Potential  /  V", ["Li/Li", "sub"], ["+", "sup"]], { fs: 10.5, fw: "bold", anchor: "middle", rotate: true });
}

// ---------- Panel h ----------
{
  const P = panel({ x0: 291.7, x1: 510, y0: 391.7, y1: 524.3, xd: [0, 100.7], yd: [0, 200],
    xt: d3.range(0, 101, 10), xm: d3.range(5, 100, 10), yt: [0,50,100,150,200], ym: [25,75,125,175],
    xf: d3.format("d"), yf: d3.format("d"), fs: 9, fw: "bold", mirror: true, tw: 1.1, fwid: 1.5, xpad: 3 });
  const pc = pairs(hCycles, hCharge), pd = pairs(hCycles, hDischarge);
  curve(P, pc, { w: 0.8, stroke: "#888", curve: d3.curveLinear, free: true });
  P.free.selectAll("rect.hc").data(pc).join("rect").attr("x", d => P.x(d[0]) - 2.2).attr("y", d => P.y(d[1]) - 2.2)
    .attr("width", 4.4).attr("height", 4.4).attr("fill", "#111");
  curve(P, pd, { w: 0.8, stroke: "#888", curve: d3.curveLinear, free: true });
  P.free.selectAll("rect.hd").data(pd).join("rect").attr("x", d => P.x(d[0]) - 2.2).attr("y", d => P.y(d[1]) - 2.2)
    .attr("width", 4.4).attr("height", 4.4).attr("fill", "#fff").attr("stroke", "#222").attr("stroke-width", 0.9);
  [[489, true, "Charge"], [502, false, "Discharge"]].forEach(([yy, filled, s]) => {
    svg.append("line").attr("x1", 347).attr("x2", 368).attr("y1", yy).attr("y2", yy).attr("stroke", "#888").attr("stroke-width", 1);
    svg.append("rect").attr("x", 355.5).attr("y", yy - 2.5).attr("width", 5).attr("height", 5)
      .attr("fill", filled ? "#111" : "#fff").attr("stroke", "#111").attr("stroke-width", 0.9);
    label(372, yy + 3.5, s, { fs: 9.5, fw: "bold" });
  });
  label(296, 405, "(b)", { fs: 11, fw: "bold", font: SERIF });
  label(487, 420, "h", { fs: 23, fw: "bold", font: SERIF });
  label(402, 550, "Cycle Number", { fs: 12.5, fw: "bold", anchor: "middle" });
  label(264, 456, ["Specific Capacity  /  mAh g", ["-1", "sup"]], { fs: 10, fw: "bold", anchor: "middle", rotate: true });
}

// ---------- Panel i ----------
{
  const P = panel({ x0: 567.7, x1: 797, y0: 390, y1: 536, xd: [2.207, 4.57], yd: [-0.2087, 0.2606],
    xt: [2.5,3.0,3.5,4.0,4.5], xm: [2.25,2.75,3.25,3.75,4.25], yt: [-0.2,-0.15,-0.1,-0.05,0,0.05,0.1,0.15,0.2,0.25],
    ym: [-0.175,-0.125,-0.075,-0.025,0.025,0.075,0.125,0.175,0.225],
    xf: d3.format(".1f"), yf: d3.format(".2f"), fs: 8.5, tw: 1, fwid: 1.1, tl: 3, ml: 1.5, xpad: 3 });
  const dashes = [null, "6,3", "1.2,2", "6,2,1.5,2", "5,1.5,1.2,1.5,1.2,1.5", "3,1.6", "1,1", "5,2,1,2"];
  const cyc = [[i7a, i7c, 1], [i13a, i13c, 2], [i18a, i18c, 3], [i28a, i28c, 5], [i48a, i48c, 7]];
  cyc.forEach(([a, c, k]) => curve(P, pairs(iVa, a).concat(pairs(iVc, c)), { w: 1, stroke: "#222", dash: dashes[k] }));
  curve(P, pairs(i1V, i1I), { w: 1.1, stroke: "#111" });
  iLegend.forEach((s, k) => {
    const yy = 398.3 + k * 7.45;
    svg.append("line").attr("x1", 577).attr("x2", 598).attr("y1", yy).attr("y2", yy).attr("stroke", "#111").attr("stroke-width", 1)
      .attr("stroke-dasharray", dashes[k]);
    label(603, yy + 2.5, s, { fs: 7 });
  });
  label(777, 414, "i", { fs: 20, fw: "bold", font: SERIF });
  label(683, 556, ["Potential / V (vs. Li/Li", ["+", "sup"], ")"], { fs: 9, fw: "bold", anchor: "middle" });
  label(545, 474, "Current / mA", { fs: 9.5, fw: "bold", anchor: "middle", rotate: true });
}
</script></body></html>
